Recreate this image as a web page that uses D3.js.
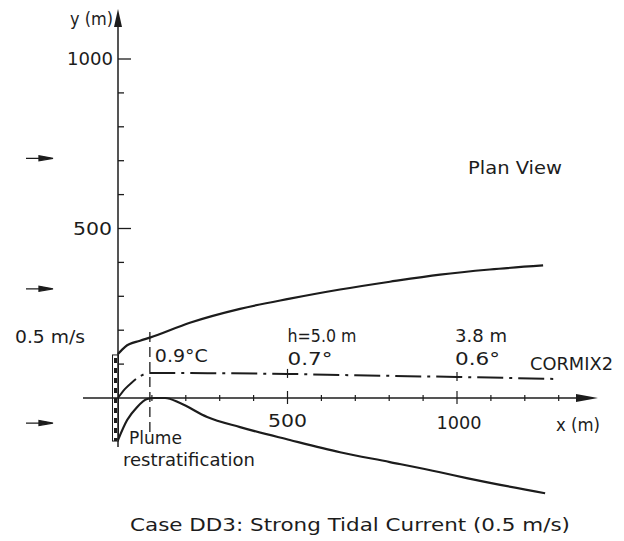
<!DOCTYPE html>
<html>
<head>
<meta charset="utf-8">
<script src="https://cdn.jsdelivr.net/npm/d3@7"></script>
<style>
  body { margin: 0; background: #fff; }
  text { font-family: "DejaVu Sans", sans-serif; fill: #1c1c1c; }
</style>
</head>
<body>
<svg id="chart" width="624" height="541"></svg>
<script>
// tick values along the axes (m)
const xTicks = [100, 200, 300, 400, 500, 600, 700, 800, 900, 1000, 1100, 1200, 1300];
const yTicks = [100, 200, 300, 400, 500, 600, 700, 800, 900, 1000];
const majorTicks = [500, 1000];

// plume outline (m)
const upperX = [0, 21, 65, 94, 212, 360, 507, 655, 802, 950, 1097, 1254];
const upperY = [130, 151, 169, 178, 222, 263, 293, 320, 343, 364, 379, 391];
const centerX = [0, 20, 41, 65, 94, 150, 300, 500, 700, 1000, 1300];
const centerY = [0, 26, 46, 64, 74, 74, 73, 71, 67, 62, 56];
const lowerX = [0, 27, 56, 86, 109, 139, 183, 263, 360, 507, 655, 802, 950, 1032, 1260];
const lowerY = [-124, -65, -27, -3, 0, 0, -15, -56, -86, -124, -160, -189, -219, -237, -281];

// diffuser extent, end of near field, current arrows (m)
const diffuserY = [-127, 127];
const nearFieldX = 94;
const currentY = [707, 322, -74];

const svg = d3.select("#chart");
const ink = "#1c1c1c";

const x = d3.scaleLinear().domain([0, 1000]).range([118, 457]);
const y = d3.scaleLinear().domain([0, 1000]).range([398, 59]);

const g = svg.append("g");

// axes lines
g.append("line")
  .attr("x1", x(0)).attr("x2", x(0))
  .attr("y1", 20).attr("y2", 447)
  .attr("stroke", ink).attr("stroke-width", 1.5);
g.append("path")
  .attr("d", `M${x(0)},9 L${x(0) - 4},27 L${x(0) + 4},27 Z`)
  .attr("fill", ink);

g.append("line")
  .attr("x1", 83).attr("x2", 585)
  .attr("y1", y(0)).attr("y2", y(0))
  .attr("stroke", ink).attr("stroke-width", 1.5);
g.append("path")
  .attr("d", `M598,${y(0)} L576,${y(0) - 4} L576,${y(0) + 4} Z`)
  .attr("fill", ink);

// y ticks on the right of the axis
g.selectAll(".ytick")
  .data(yTicks)
  .enter()
  .append("line")
  .attr("x1", x(0))
  .attr("x2", d => x(0) + (majorTicks.includes(d) ? 13 : 6))
  .attr("y1", d => y(d)).attr("y2", d => y(d))
  .attr("stroke", ink).attr("stroke-width", 1.3);

// x ticks crossing the axis
g.selectAll(".xtick")
  .data(xTicks)
  .enter()
  .append("line")
  .attr("x1", d => x(d)).attr("x2", d => x(d))
  .attr("y1", d => y(0) - (majorTicks.includes(d) ? 7 : 3))
  .attr("y2", d => y(0) + (majorTicks.includes(d) ? 6 : 3))
  .attr("stroke", ink).attr("stroke-width", 1.2);

// diffuser
g.append("rect")
  .attr("x", x(0) - 5.5).attr("width", 6)
  .attr("y", y(diffuserY[1])).attr("height", y(diffuserY[0]) - y(diffuserY[1]))
  .attr("fill", "none").attr("stroke", ink).attr("stroke-width", 1);
g.append("line")
  .attr("x1", x(0) - 2.5).attr("x2", x(0) - 2.5)
  .attr("y1", y(diffuserY[1]) + 3).attr("y2", y(diffuserY[0]))
  .attr("stroke", ink).attr("stroke-width", 3)
  .attr("stroke-dasharray", "5,5");

// plume outline
const line = d3.line()
  .x(d => x(d[0]))
  .y(d => y(d[1]))
  .curve(d3.curveMonotoneX);

g.append("path")
  .attr("d", line(d3.zip(upperX, upperY)))
  .attr("fill", "none").attr("stroke", ink).attr("stroke-width", 2.2);
g.append("path")
  .attr("d", line(d3.zip(lowerX, lowerY)))
  .attr("fill", "none").attr("stroke", ink).attr("stroke-width", 2.2);
g.append("path")
  .attr("d", line(d3.zip(centerX, centerY)))
  .attr("fill", "none").attr("stroke", ink).attr("stroke-width", 2)
  .attr("stroke-dasharray", "26,6,3,6");

// end of near field
g.append("line")
  .attr("x1", x(nearFieldX)).attr("x2", x(nearFieldX))
  .attr("y1", 332).attr("y2", 436)
  .attr("stroke", ink).attr("stroke-width", 1.3)
  .attr("stroke-dasharray", "10,5");

// marks on the centerline at 500 and 1000 m
const centerAt = d3.scaleLinear().domain(centerX).range(centerY);
g.selectAll(".cmark")
  .data(majorTicks)
  .enter()
  .append("line")
  .attr("x1", d => x(d)).attr("x2", d => x(d))
  .attr("y1", d => y(centerAt(d)) - 5).attr("y2", d => y(centerAt(d)) + 4)
  .attr("stroke", ink).attr("stroke-width", 1.2);

// current arrows
g.selectAll(".current")
  .data(currentY)
  .enter()
  .append("path")
  .attr("d", d => `M${x(0) - 92},${y(d)} H${x(0) - 76} M${x(0) - 65},${y(d)} L${x(0) - 79},${y(d) - 2.5} L${x(0) - 79},${y(d) + 2.5} Z`)
  .attr("stroke", ink).attr("stroke-width", 1.3).attr("fill", ink);

// texts
const label = (txt, px, py, len, anchor) => {
  g.append("text")
    .attr("x", px).attr("y", py)
    .attr("text-anchor", anchor || "start")
    .attr("font-size", 17)
    .attr("textLength", len)
    .attr("lengthAdjust", "spacingAndGlyphs")
    .text(txt);
};

label("y (m)", 70, 25, 43);
label("1000", 113, y(1000) + 6, 46, "end");
label("500", 112, y(500) + 6, 39, "end");
label("500", x(500), y(0) + 29, 39, "middle");
label("1000", x(1000) + 2, y(0) + 31, 45, "middle");
label("x (m)", 556, 431, 44);
label("0.5 m/s", 15, 343, 70);
label("Plan View", 468, 174, 94);
label("0.9°C", x(nearFieldX) + 5, 362, 53);
label("h=5.0 m", x(500), 342, 69);
label("0.7°", x(500), 365, 45);
label("3.8 m", x(1000) - 2, 342, 52);
label("0.6°", x(1000) - 2, 365, 45);
label("CORMIX2", 530, 370, 83);
label("Plume", 129, 444, 53);
label("restratification", 123, 466, 132);
label("Case DD3: Strong Tidal Current (0.5 m/s)", 130, 531, 440);
</script>
</body>
</html>
